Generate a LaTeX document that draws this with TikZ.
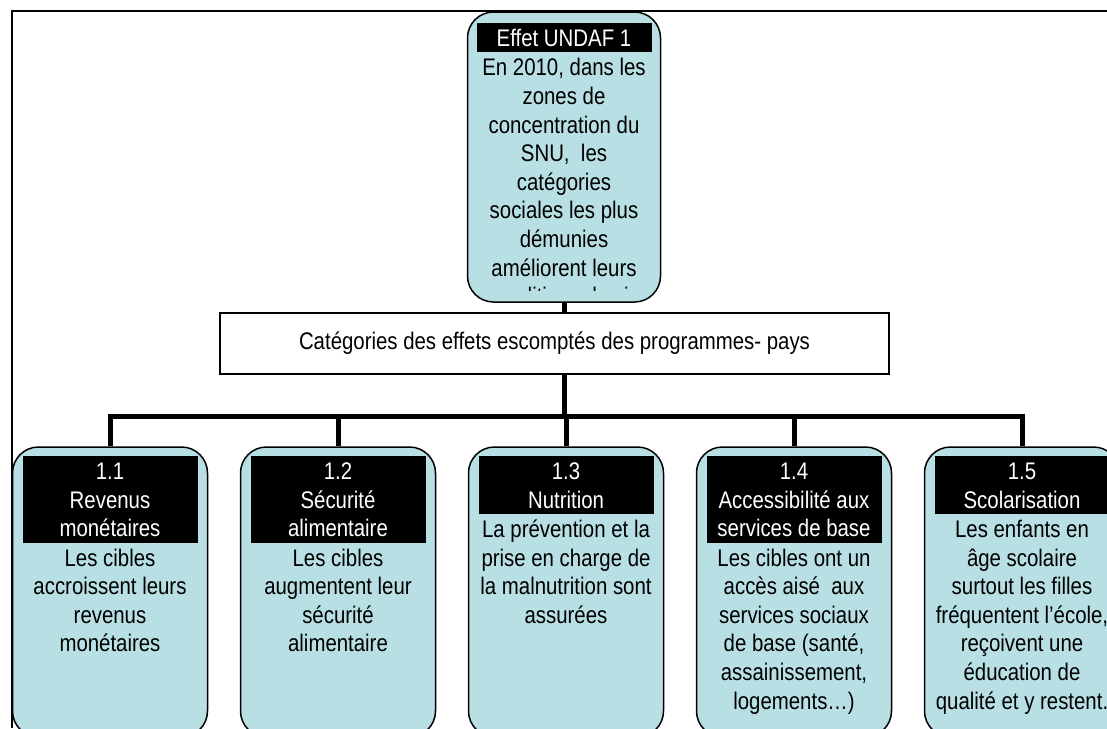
\documentclass[tikz,border=0pt]{standalone}
\usepackage{fontspec}
\setmainfont[FakeStretch=0.85]{Liberation Sans}
\definecolor{cible}{RGB}{184,223,227}
\newcommand{\textecible}{\fontsize{24}{28.6}\selectfont}
\newcommand{\hautligne}{\rule{0pt}{23pt}}
\newcommand{\basligne}{\rule[-6pt]{0pt}{6pt}}

\begin{document}
\begin{tikzpicture}[x=1pt,y=-1pt,
	cadre/.style={draw,line width=1.5pt,rounded corners=26pt,fill=cible,
		minimum width=195pt,minimum height=290pt,inner sep=0pt},
	titre/.style={fill=black,text=white,text width=175pt,inner sep=0pt,
		align=flush center,font=\textecible},
	texte/.style={inner sep=0pt,text width=200pt,align=flush center,font=\textecible},
	lien/.style={line width=5pt}]
	\useasboundingbox (0,0) rectangle (1107,728);
	\clip (0,0) rectangle (1107,728);
	\draw[line width=2pt] (12,728) -- (12,11) -- (1107,11);

	% effet UNDAF
	\node[cadre,minimum width=193pt] (effet) at (564,157) {};
	\node[titre,anchor=north] (effettitre) at ([yshift=-12pt]effet.north) {\hautligne Effet UNDAF 1\basligne};
	\begin{scope}
		\clip (467,12) rectangle (661,290);
		\node[texte,anchor=north] at (effettitre.south) {\hautligne En 2010, dans les\\zones de\\concentration du\\SNU,\ \ les\\catégories\\sociales les plus\\démunies\\améliorent leurs\\conditions de vie\basligne};
	\end{scope}

	\node[draw,line width=2pt,minimum width=669pt,minimum height=61pt,font=\textecible]
		(categories) at (554.5,343.5) {Catégories des effets escomptés des programmes- pays};

	% effets des programmes
	\node[cadre] (r1) at (110,592) {};
	\node[titre,anchor=north] (t1) at ([yshift=-10pt]r1.north) {\hautligne 1.1\\Revenus\\monétaires\basligne};
	\node[texte,anchor=north] at (t1.south) {\hautligne Les cibles\\accroissent leurs\\revenus\\monétaires\basligne};

	\node[cadre] (r2) at (338,592) {};
	\node[titre,anchor=north] (t2) at ([yshift=-10pt]r2.north) {\hautligne 1.2\\Sécurité\\alimentaire\basligne};
	\node[texte,anchor=north] at (t2.south) {\hautligne Les cibles\\augmentent leur\\sécurité\\alimentaire\basligne};

	\node[cadre] (r3) at (566,592) {};
	\node[titre,anchor=north] (t3) at ([yshift=-10pt]r3.north) {\hautligne 1.3\\Nutrition\basligne};
	\node[texte,anchor=north] at (t3.south) {\hautligne La prévention et la\\prise en charge de\\la malnutrition sont\\assurées\basligne};

	\node[cadre] (r4) at (794,592) {};
	\node[titre,anchor=north] (t4) at ([yshift=-10pt]r4.north) {\hautligne 1.4\\Accessibilité aux\\services de base\basligne};
	\node[texte,anchor=north] at (t4.south) {\hautligne Les cibles ont un\\accès aisé\ \ aux\\services sociaux\\de base (santé,\\assainissement,\\logements…)\basligne};

	\node[cadre] (r5) at (1022,592) {};
	\node[titre,anchor=north] (t5) at ([yshift=-10pt]r5.north) {\hautligne 1.5\\Scolarisation\basligne};
	\node[texte,anchor=north] at (t5.south) {\hautligne Les enfants en\\âge scolaire\\surtout les filles\\fréquentent l’école,\\reçoivent une\\éducation de\\qualité et y restent.\basligne};

	% liens
	\coordinate (bus) at (0,416);
	\draw[lien] (effet.south) -- (categories.north -| effet.south);
	\draw[lien] (categories.south -| effet.south) -- (bus -| effet.south);
	\draw[lien] (r1.north) -- (r1.north |- bus) -- (r5.north |- bus) -- (r5.north);
	\foreach \i in {2,3,4}{
		\draw[lien] (r\i.north) -- (r\i.north |- bus);
	}
\end{tikzpicture}
\end{document}
